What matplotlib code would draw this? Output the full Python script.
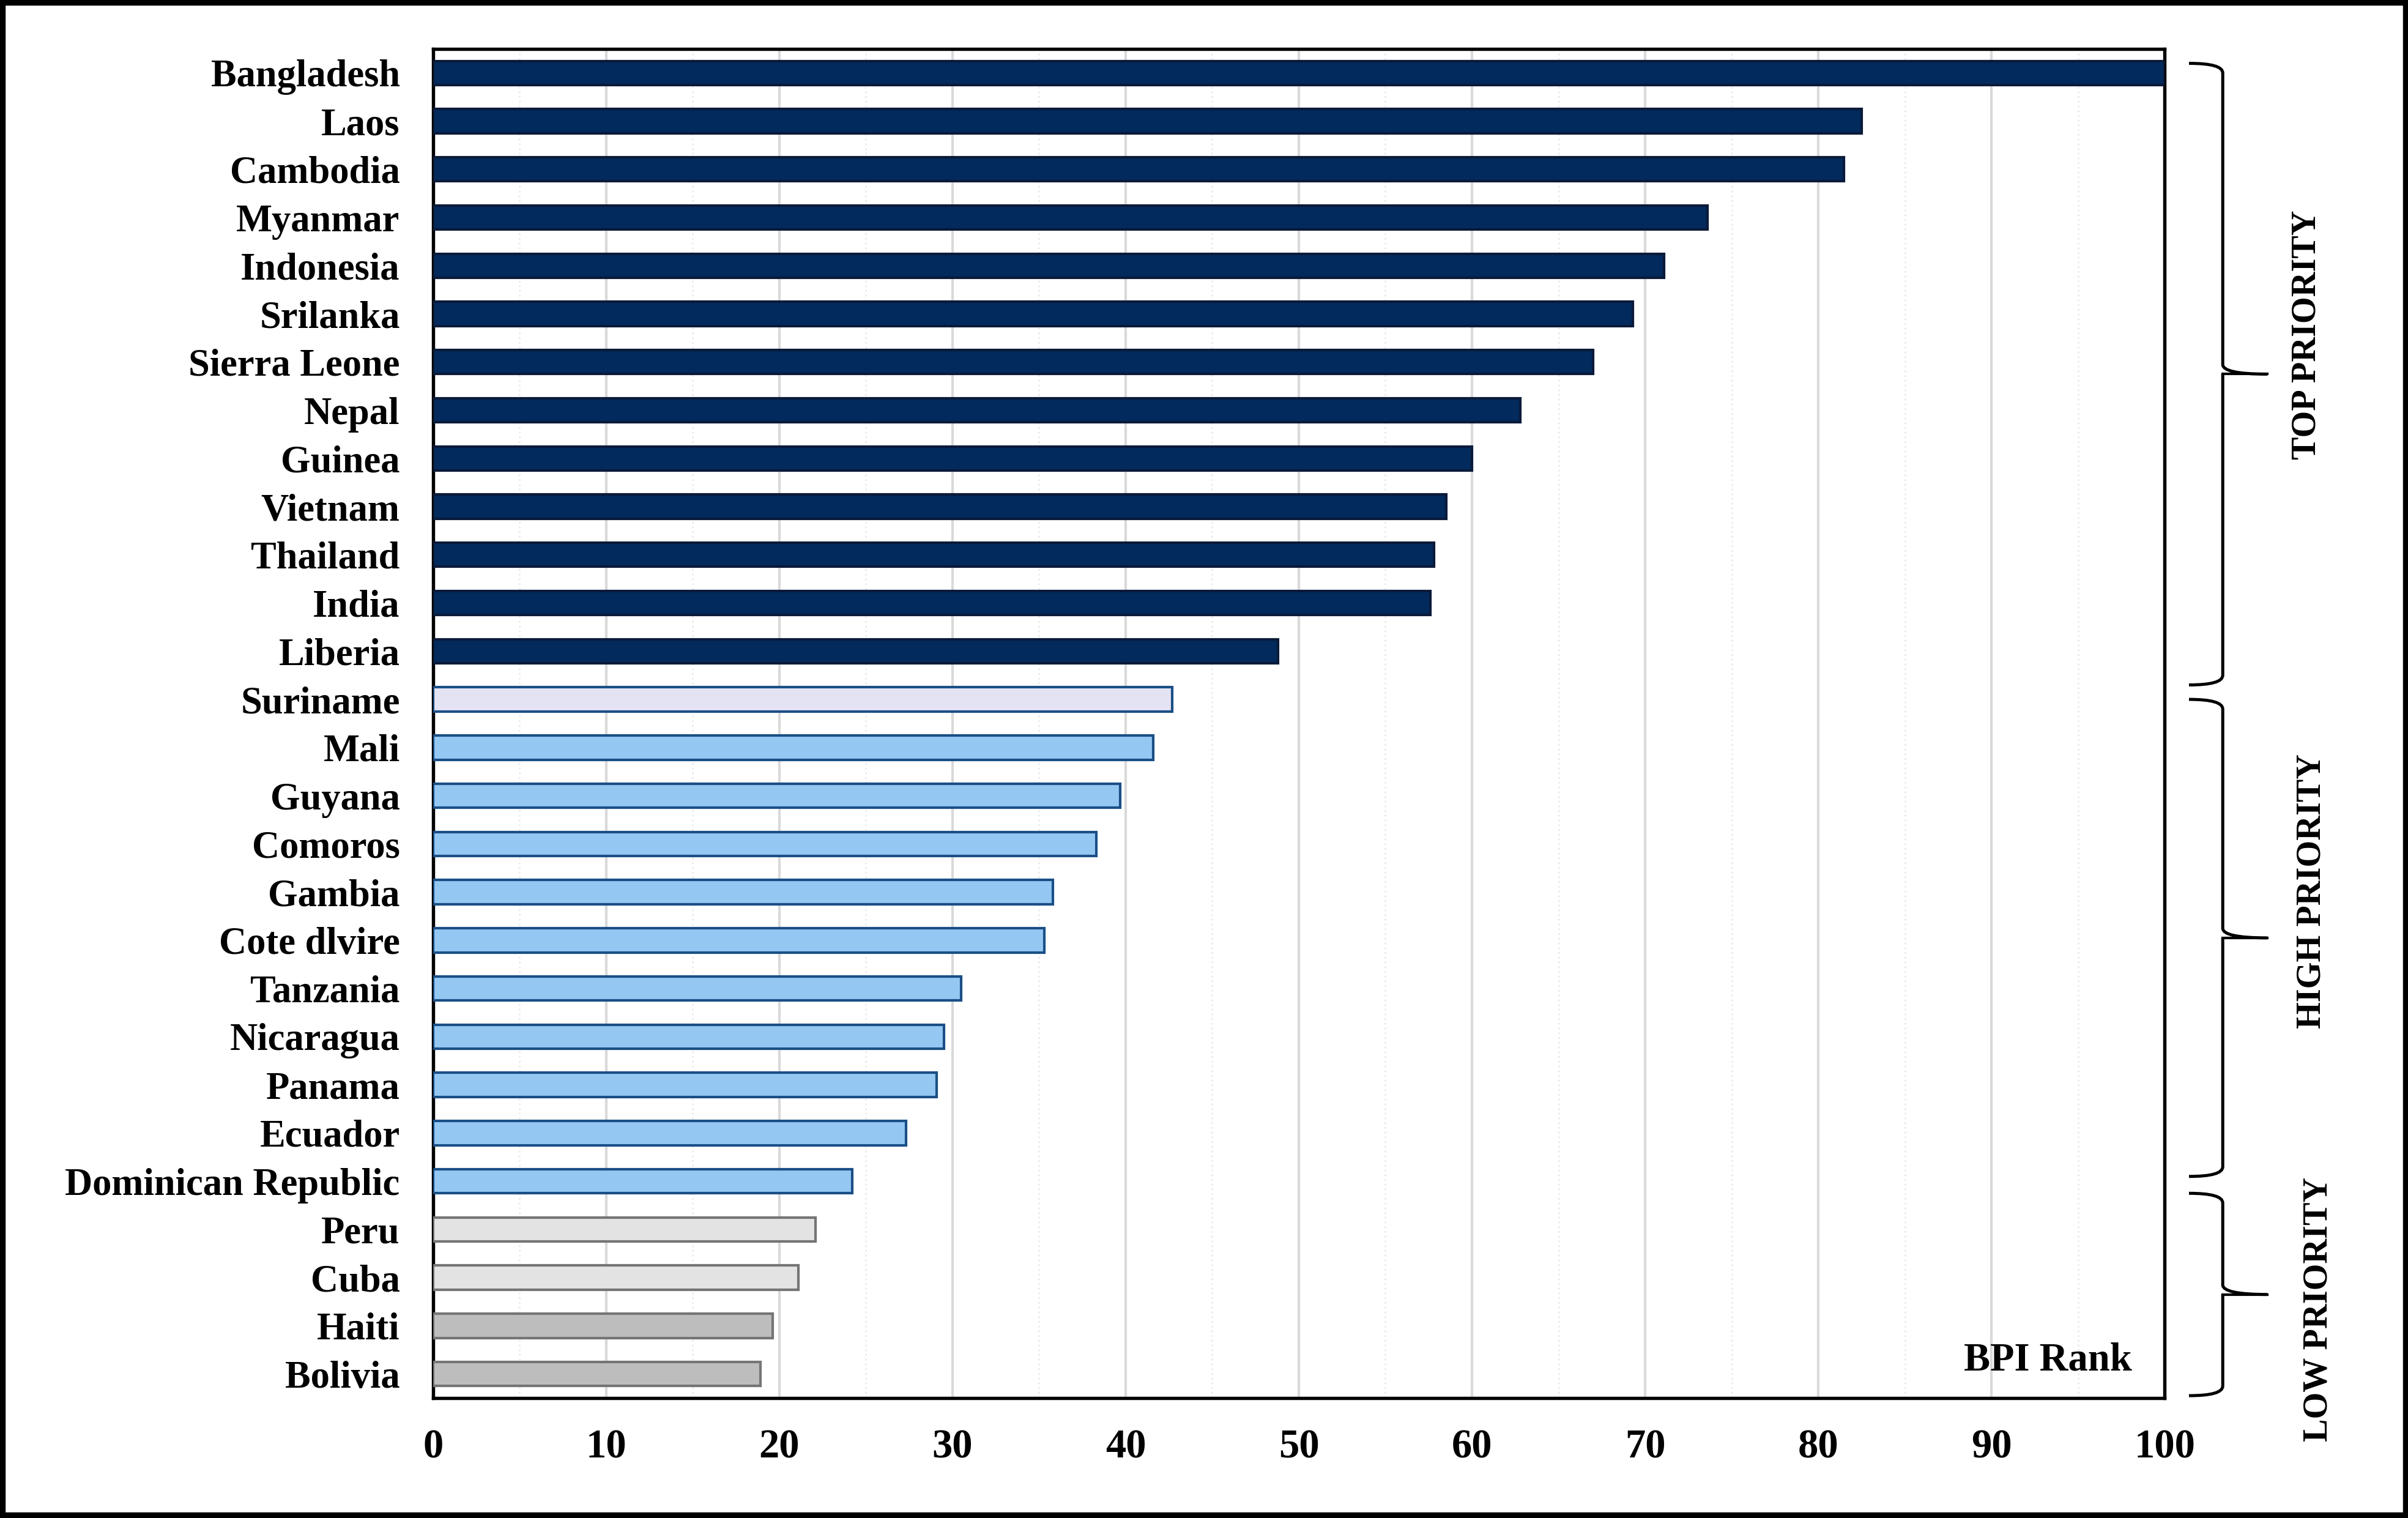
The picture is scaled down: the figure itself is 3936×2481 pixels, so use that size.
import numpy as np
import matplotlib
matplotlib.use("Agg")
import matplotlib.pyplot as plt
from matplotlib.path import Path
from matplotlib.patches import PathPatch, Rectangle
from matplotlib.transforms import blended_transform_factory
from matplotlib.ticker import MultipleLocator

# --- data ---
countries = ["Bangladesh", "Laos", "Cambodia", "Myanmar", "Indonesia", "Srilanka",
             "Sierra Leone", "Nepal", "Guinea", "Vietnam", "Thailand", "India",
             "Liberia", "Suriname", "Mali", "Guyana", "Comoros", "Gambia",
             "Cote dlvire", "Tanzania", "Nicaragua", "Panama", "Ecuador",
             "Dominican Republic", "Peru", "Cuba", "Haiti", "Bolivia"]
bpi = [100.0, 82.5, 81.5, 73.6, 71.1, 69.3, 67.0, 62.8, 60.0, 58.5, 57.8, 57.6,
       48.8, 42.7, 41.6, 39.7, 38.3, 35.8, 35.3, 30.5, 29.5, 29.1, 27.3, 24.2,
       22.1, 21.1, 19.6, 18.9]
tiers = ["top", "high", "low"]
tier_labels = ["TOP PRIORITY", "HIGH PRIORITY", "LOW PRIORITY"]

# --- styles / layout ---
NAVY = "#022a5c"
fills = [NAVY] * 13 + ["#e4e3f4"] + ["#95c7f3"] * 10 + ["#e3e3e3"] * 2 + ["#bdbdbd"] * 2
edges = ["#0b1a3a"] * 13 + ["#1a4f86"] * 11 + ["#757575"] * 4
SERIF = ["Liberation Serif", "DejaVu Serif"]
# brace spans (y in bar units) and label positions (x axes fraction, y bar units)
brace_span = {"top": (-0.2, 12.7), "high": (13.0, 22.9), "low": (23.25, 27.45)}
label_pos = {"top": (1.082, 5.43), "high": (1.085, 16.98), "low": (1.089, 25.66)}

plt.rcParams["font.family"] = SERIF
plt.rcParams["font.weight"] = "bold"

fig = plt.figure(figsize=(13.123, 8.27), dpi=300)
ax = fig.add_axes([0.1798, 0.0790, 0.7189, 0.8888])

y = np.arange(len(countries))
ax.barh(y, bpi, height=0.5, color=fills, edgecolor=edges, linewidth=1.0, zorder=3)

ax.set_xlim(0, 100)
ax.set_ylim(len(countries) - 0.5, -0.5)
ax.set_yticks(y)
ax.set_yticklabels(countries, fontsize=15, fontweight="bold")
ax.xaxis.set_major_locator(MultipleLocator(10))
ax.xaxis.set_minor_locator(MultipleLocator(5))
ax.tick_params(axis="x", which="major", length=0, pad=12, labelsize=16)
ax.tick_params(axis="x", which="minor", length=0)
ax.tick_params(axis="y", length=0, pad=13)
for lab in ax.get_xticklabels():
    lab.set_fontweight("bold")

ax.grid(axis="x", which="major", color="#d9d9d9", linewidth=1.0, zorder=0)
ax.grid(axis="x", which="minor", color="#ececec", linewidth=0.7, linestyle=":", zorder=0)
ax.set_axisbelow(True)
for sp in ax.spines.values():
    sp.set_linewidth(1.3)
    sp.set_color("black")

ax.text(0.981, 0.028, "BPI Rank", transform=ax.transAxes, ha="right", va="center",
        fontsize=15.5, fontweight="bold")

# curly braces on the right, x in axes fraction, y in bar units
trans = blended_transform_factory(ax.transAxes, ax.transData)
x_end, x_bar, x_tip = 1.0141, 1.0336, 1.0594


def brace(y0, y1):
    mid = (y0 + y1) / 2
    r = 0.2
    verts = [(x_end, y0), (x_bar, y0), (x_bar, y0 + r),
             (x_bar, mid - r),
             (x_bar, mid), (x_tip, mid),
             (x_bar, mid), (x_bar, mid + r),
             (x_bar, y1 - r),
             (x_bar, y1), (x_end, y1)]
    codes = [Path.MOVETO, Path.CURVE3, Path.CURVE3,
             Path.LINETO,
             Path.CURVE3, Path.CURVE3,
             Path.MOVETO, Path.CURVE3,
             Path.LINETO,
             Path.CURVE3, Path.CURVE3]
    ax.add_patch(PathPatch(Path(verts, codes), transform=trans, fill=False, lw=1.2,
                           ec="black", clip_on=False))
    ax.plot([x_bar, x_tip], [mid, mid], transform=trans, color="black", lw=1.0,
            clip_on=False)


for t, text in zip(tiers, tier_labels):
    brace(*brace_span[t])
    lx, ly = label_pos[t]
    ax.text(lx, ly, text, transform=trans, rotation=90, ha="center",
            va="center", fontsize=13.5, fontweight="bold")

fig.patches.append(Rectangle((0.001, 0.0015), 0.998, 0.997, transform=fig.transFigure,
                             fill=False, lw=2.5, ec="black"))

fig.savefig("out.png", dpi=300)
